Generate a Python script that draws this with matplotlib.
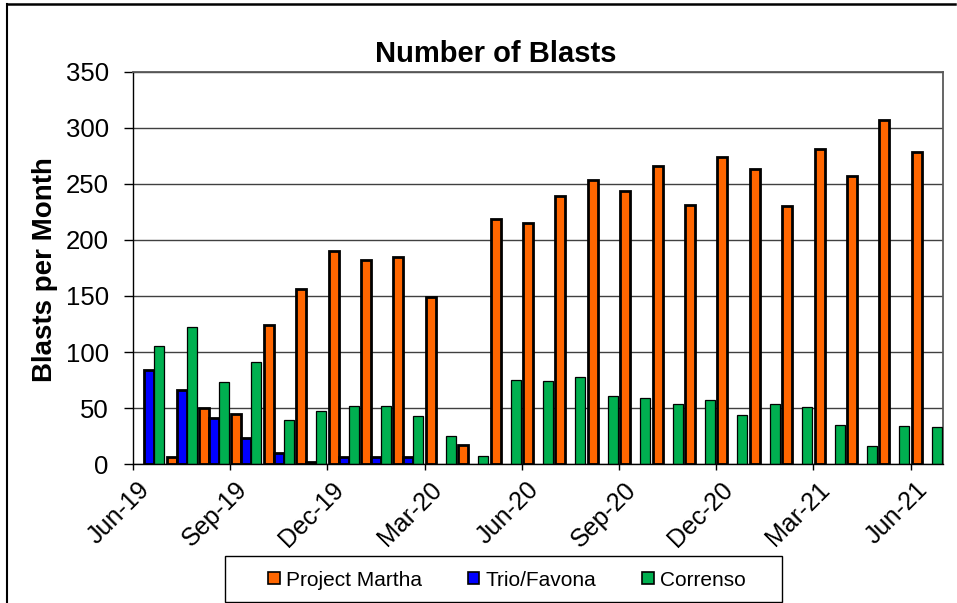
import matplotlib
matplotlib.use("Agg")
import matplotlib.pyplot as plt
import numpy as np
from matplotlib.patches import Patch, Rectangle
from matplotlib.lines import Line2D
from matplotlib.transforms import ScaledTranslation

plt.rcParams['font.family'] = ['Liberation Sans', 'DejaVu Sans']

# Monthly blast counts, Jun-19 .. Jun-21
months = ["Jun-19", "Jul-19", "Aug-19", "Sep-19", "Oct-19", "Nov-19", "Dec-19",
          "Jan-20", "Feb-20", "Mar-20", "Apr-20", "May-20", "Jun-20", "Jul-20",
          "Aug-20", "Sep-20", "Oct-20", "Nov-20", "Dec-20", "Jan-21", "Feb-21",
          "Mar-21", "Apr-21", "May-21", "Jun-21"]
project_martha = [0, 6, 50, 45, 124, 156, 190, 182, 185, 149, 17, 219, 215, 239,
                  254, 244, 266, 231, 274, 263, 230, 281, 257, 307, 279]
trio_favona = [84, 66, 41, 23, 10, 2, 6, 6, 6, 0, 0, 0, 0, 0,
               0, 0, 0, 0, 0, 0, 0, 0, 0, 0, 0]
correnso = [105, 122, 73, 91, 39, 47, 52, 52, 43, 25, 7, 75, 74, 78,
            61, 59, 54, 57, 44, 54, 51, 35, 16, 34, 33]
tick_labels = months[::3]

series = [
    ("Project Martha", project_martha, "#FF6600", 2.0),
    ("Trio/Favona", trio_favona, "#0000FF", 2.0),
    ("Correnso", correnso, "#00B050", 0.9),
]

W, H = 957, 603
fig = plt.figure(figsize=(W / 100, H / 100), dpi=100)
ax = fig.add_axes([133 / W, (H - 464) / H, 810 / W, 392 / H])

x = np.arange(len(months)) + 0.5
bw = 0.31
for k, (name, vals, col, lw) in enumerate(series):
    v = np.asarray(vals, dtype=float)
    keep = v > 0  # months with no blasts draw no bar
    ax.bar((x + (k - 1) * bw)[keep], v[keep], width=bw, color=col,
           edgecolor="black", linewidth=lw, zorder=3)

ax.set_xlim(0, len(months))
ax.set_ylim(0, 350)
ax.set_yticks(np.arange(0, 351, 50))
ax.set_xticks(np.arange(0, len(months), 3))
ax.set_xticklabels(tick_labels)

ax.set_axisbelow(True)
ax.yaxis.grid(True, color="#404040", linewidth=1.0, zorder=0)

for side in ("top", "right"):
    ax.spines[side].set_color("#595959")
    ax.spines[side].set_linewidth(1.3)
for side in ("left", "bottom"):
    ax.spines[side].set_color("black")
    ax.spines[side].set_linewidth(1.0)
ax.spines["bottom"].set_zorder(4)

ax.tick_params(axis="y", direction="out", length=6.5, width=1.0, pad=11,
               labelsize=18.5)
ax.tick_params(axis="x", direction="out", length=4.5, width=1.0, pad=11.3,
               labelsize=18)

shift = ScaledTranslation(0.13, 0, fig.dpi_scale_trans)
for lab in ax.get_xticklabels():
    lab.set_rotation(45)
    lab.set_ha("right")
    lab.set_va("center")
    lab.set_rotation_mode("anchor")
    lab.set_transform(lab.get_transform() + shift)

fig.text(496 / W, 1 - 62 / H, "Number of Blasts", ha="center", va="baseline",
         fontsize=21, fontweight="bold")
fig.text(45 / W, 1 - 270 / H, "Blasts per Month", ha="center", va="center",
         rotation=90, fontsize=20, fontweight="bold")

# legend box
fig.add_artist(Rectangle((225 / W, 1 - 602 / H), (782 - 225) / W, 46 / H,
                         transform=fig.transFigure, facecolor="white",
                         edgecolor="black", linewidth=1.0))
handles = [Patch(facecolor=c, edgecolor="black", linewidth=1.2, label=n)
           for n, _, c, _ in series]
fig.legend(handles=handles, loc="center", ncol=3, frameon=False,
           bbox_to_anchor=(507 / W, 1 - 580 / H), fontsize=15,
           handlelength=0.55, handleheight=0.55, handletextpad=0.3,
           columnspacing=2.2)

# outer frame (left and top edges)
fig.add_artist(Line2D([7 / W, 7 / W], [0, 1 - 4 / H], transform=fig.transFigure,
                      color="black", linewidth=1.5))
fig.add_artist(Line2D([7 / W, 955 / W], [1 - 4 / H, 1 - 4 / H],
                      transform=fig.transFigure, color="black", linewidth=1.8))

fig.savefig("out.png", dpi=100)
